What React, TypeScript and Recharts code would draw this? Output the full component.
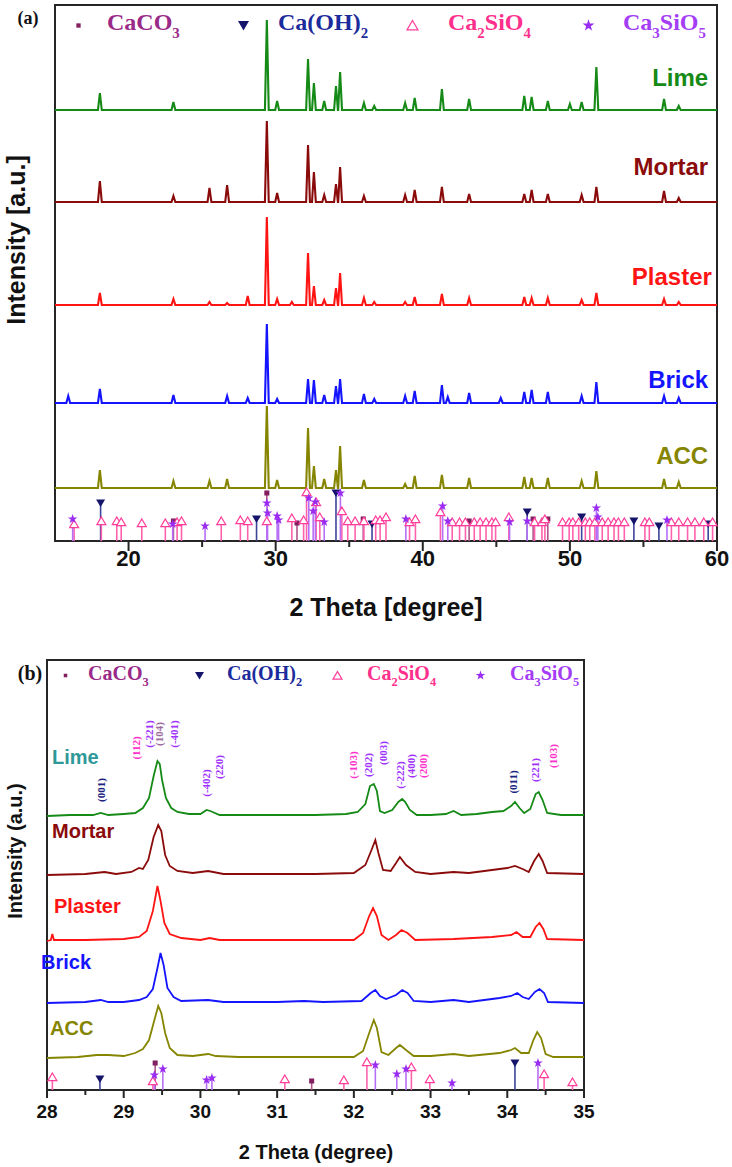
import React from 'react';
import {
  ComposedChart, Line, Scatter, XAxis, YAxis, ReferenceArea, ReferenceLine,
} from 'recharts';

// samples, top trace first
const samples = ['Lime', 'Mortar', 'Plaster', 'Brick', 'ACC'];

// (a) 15-60 deg: stacking offsets (a.u.) and peaks [2theta, height above baseline]
const offsetsA = [431, 339, 236, 138, 53];
const limePeaksA = [[18.05, 17], [23.05, 8], [29.4, 90], [30.1, 9], [32.2, 51], [32.6, 27], [33.3, 9], [34.1, 24], [34.38, 38], [36.0, 7], [36.7, 4], [38.8, 7], [39.45, 12], [41.3, 21], [43.15, 11], [46.9, 14], [47.4, 13], [48.5, 9], [50.0, 6], [50.8, 8], [51.8, 43], [56.4, 11], [57.4, 4]];
const mortarPeaksA = [[18.05, 21], [23.05, 6], [25.5, 14], [26.7, 17], [29.4, 81], [30.1, 9], [32.2, 57], [32.6, 30], [33.3, 7], [34.1, 18], [34.38, 35], [36.0, 6], [38.8, 7], [39.45, 12], [41.3, 15], [43.15, 8], [46.9, 8], [47.4, 12], [48.5, 8], [50.8, 7], [51.8, 15], [56.4, 11], [57.4, 4]];
const plasterPeaksA = [[18.05, 12], [23.05, 6], [25.5, 3], [26.7, 2], [28.1, 9], [29.4, 88], [30.1, 6], [31.1, 3], [32.2, 52], [32.6, 19], [33.3, 5], [34.1, 17], [34.38, 32], [36.0, 7], [36.7, 3], [38.8, 3], [39.45, 8], [41.3, 11], [43.15, 7], [46.9, 8], [47.4, 7], [48.5, 7], [50.8, 5], [51.8, 12], [56.4, 6], [57.4, 3]];
const brickPeaksA = [[15.9, 7], [18.05, 14], [23.05, 8], [26.7, 7], [28.1, 5], [29.4, 79], [30.1, 4], [32.2, 24], [32.6, 23], [33.3, 8], [34.1, 17], [34.38, 24], [36.0, 9], [36.7, 4], [38.8, 7], [39.45, 12], [41.3, 18], [41.7, 6], [43.15, 10], [45.3, 5], [46.9, 11], [47.4, 13], [48.5, 11], [50.8, 7], [51.8, 21], [56.4, 7], [57.4, 5]];
const accPeaksA = [[18.05, 18], [23.05, 7], [25.5, 7], [26.7, 9], [29.4, 82], [30.1, 8], [32.2, 60], [32.6, 22], [33.3, 9], [34.1, 18], [34.38, 42], [36.0, 8], [38.8, 4], [39.45, 12], [41.3, 13], [43.15, 10], [46.9, 11], [47.4, 10], [48.5, 10], [50.8, 7], [51.8, 17], [56.4, 9], [57.4, 6]];

// (a) reference patterns [2theta, stick height]
const caco3A = [[23.05, 20], [29.4, 48], [31.45, 18], [35.95, 22], [43.15, 20], [47.5, 22], [48.5, 22]];
const caoh2A = [[18.1, 38], [28.7, 22], [34.1, 48], [36.55, 17], [47.1, 29], [50.8, 24], [54.35, 20], [56.05, 15], [59.4, 17]];
const c2sA = [[16.3, 17], [18.15, 20], [19.2, 20], [19.5, 19], [20.9, 18], [22.5, 18], [23.3, 19], [23.6, 20], [26.3, 20], [27.6, 21], [28.1, 20], [29.4, 20], [31.1, 23], [31.9, 21], [32.1, 49], [32.75, 39], [33.0, 24], [34.5, 30], [34.9, 20], [35.4, 20], [36.0, 20], [36.8, 21], [37.1, 21], [37.5, 24], [39.1, 19], [39.5, 22], [41.2, 29], [42.0, 19], [42.5, 19], [42.9, 19], [43.5, 19], [43.9, 19], [44.3, 19], [44.7, 19], [44.95, 19], [45.85, 24], [47.6, 19], [48.1, 19], [48.3, 22], [49.5, 19], [49.95, 19], [50.2, 19], [50.6, 19], [51.05, 19], [51.35, 19], [51.7, 19], [52.2, 19], [52.6, 19], [53.0, 19], [53.3, 19], [53.7, 19], [55.1, 19], [55.4, 19], [56.9, 19], [57.4, 19], [58.0, 19], [58.5, 19], [59.1, 19], [59.7, 19]];
const c3sA = [[16.2, 22], [23.0, 17], [25.2, 15], [29.4, 38], [29.45, 28], [30.1, 25], [30.2, 21], [32.25, 43], [32.55, 30], [32.7, 39], [33.3, 19], [34.4, 48], [38.85, 22], [41.35, 35], [41.7, 20], [45.9, 19], [47.1, 20], [51.8, 33], [51.9, 24], [56.6, 21]];

// (b) 28-35 deg: offsets and traces [2theta, intensity above baseline]
const offsetsB = [274, 215, 149, 87, 32];
const limeB = [[28.0, 0], [28.3, 1], [28.6, 1], [28.7, 3], [28.8, 1], [29.0, 2], [29.15, 3], [29.25, 8], [29.33, 18], [29.39, 40], [29.44, 55], [29.47, 52], [29.5, 36], [29.55, 18], [29.62, 8], [29.7, 4], [29.85, 2], [30.0, 2], [30.08, 6], [30.13, 5], [30.25, 1], [30.6, 1], [31.0, 1], [31.5, 1], [31.9, 2], [32.05, 4], [32.15, 12], [32.21, 30], [32.26, 32], [32.3, 25], [32.34, 5], [32.4, 3], [32.5, 6], [32.58, 14], [32.63, 17], [32.67, 14], [32.73, 6], [32.82, 1], [33.0, 1], [33.2, 2], [33.3, 5], [33.4, 1], [33.6, 2], [33.8, 4], [33.95, 5], [34.05, 10], [34.1, 14], [34.16, 8], [34.22, 3], [34.3, 7], [34.37, 22], [34.41, 24], [34.46, 16], [34.52, 3], [34.7, 1], [35.0, 1]];
const mortarB = [[28.0, 0], [28.5, 1], [28.75, 3], [28.9, 1], [29.1, 3], [29.2, 7], [29.25, 6], [29.32, 15], [29.39, 38], [29.45, 50], [29.49, 44], [29.54, 20], [29.6, 9], [29.7, 4], [29.9, 2], [30.1, 4], [30.3, 1], [31.0, 1], [31.5, 1], [32.0, 2], [32.15, 10], [32.23, 25], [32.28, 35], [32.32, 22], [32.38, 5], [32.48, 4], [32.55, 12], [32.6, 18], [32.68, 10], [32.8, 3], [33.0, 1], [33.3, 3], [33.5, 2], [33.8, 5], [34.0, 7], [34.1, 9], [34.2, 6], [34.28, 3], [34.35, 14], [34.41, 21], [34.46, 14], [34.52, 2], [35.0, 1]];
const plasterB = [[28.0, 0], [28.05, 1], [28.07, 7], [28.09, 1], [28.5, 1], [29.0, 2], [29.2, 4], [29.3, 10], [29.38, 30], [29.44, 55], [29.48, 40], [29.53, 18], [29.6, 7], [29.75, 3], [30.0, 1], [30.12, 3], [30.25, 1], [31.0, 1], [31.5, 1], [32.0, 1], [32.12, 8], [32.2, 25], [32.25, 33], [32.3, 25], [32.36, 6], [32.45, 1], [32.55, 6], [32.62, 11], [32.7, 8], [32.8, 1], [33.3, 2], [33.8, 4], [34.05, 6], [34.12, 9], [34.2, 4], [34.3, 4], [34.37, 14], [34.42, 18], [34.47, 12], [34.52, 2], [35.0, 1]];
const brickB = [[28.0, 0], [28.5, 1], [28.7, 3], [28.8, 1], [29.0, 1], [29.2, 3], [29.3, 6], [29.38, 14], [29.44, 35], [29.48, 50], [29.52, 38], [29.57, 15], [29.65, 6], [29.75, 2], [30.1, 3], [30.3, 1], [31.0, 1], [31.35, 2], [31.6, 1], [32.1, 2], [32.22, 10], [32.28, 13], [32.34, 7], [32.42, 4], [32.55, 8], [32.63, 13], [32.7, 10], [32.78, 2], [33.0, 1], [33.3, 3], [33.5, 1], [33.9, 5], [34.05, 7], [34.13, 10], [34.2, 6], [34.28, 4], [34.36, 11], [34.42, 14], [34.48, 10], [34.53, 1], [35.0, 0]];
const accB = [[28.0, 0], [28.4, 1], [28.65, 3], [28.8, 3], [29.0, 2], [29.15, 5], [29.25, 9], [29.33, 18], [29.4, 38], [29.45, 52], [29.49, 45], [29.54, 25], [29.6, 10], [29.7, 3], [29.9, 2], [30.1, 4], [30.2, 2], [30.5, 1], [31.0, 1], [31.5, 1], [32.0, 1], [32.12, 7], [32.2, 25], [32.26, 38], [32.3, 30], [32.36, 6], [32.45, 3], [32.55, 10], [32.6, 13], [32.68, 8], [32.78, 2], [33.0, 2], [33.3, 4], [33.5, 2], [33.9, 5], [34.05, 8], [34.1, 10], [34.18, 5], [34.28, 5], [34.34, 18], [34.39, 26], [34.44, 20], [34.5, 4], [34.6, 1], [35.0, 1]];

// (b) reference patterns
const caco3B = [[29.41, 27], [31.45, 9]];
const caoh2B = [[28.69, 11], [34.1, 27]];
const c2sB = [[28.07, 13], [29.38, 9], [31.1, 11], [31.87, 10], [32.17, 28], [32.75, 23], [32.99, 11], [34.48, 16], [34.85, 8]];
const c3sB = [[29.4, 15], [29.51, 21], [30.08, 10], [30.15, 12], [32.28, 25], [32.56, 16], [32.68, 21], [33.28, 7], [34.4, 27]];

// (b) Miller indices over the Lime trace: [label, 2theta, height, phase]
const hklB = [
  ['(001)', 28.71, 300, 'CH'], ['(112)', 29.16, 342, 'C2S'], ['(-221)', 29.33, 356, 'C3S'],
  ['(104)', 29.46, 356, 'CC'], ['(-401)', 29.66, 356, 'C3S'], ['(-402)', 30.08, 307, 'C3S'],
  ['(220)', 30.24, 323, 'C3S'], ['(-103)', 31.99, 325, 'C2S'], ['(202)', 32.18, 325, 'C3S'],
  ['(003)', 32.38, 337, 'C3S'], ['(-222)', 32.6, 315, 'C3S'], ['(400)', 32.75, 324, 'C3S'],
  ['(200)', 32.9, 324, 'C2S'], ['(011)', 34.08, 308, 'CH'], ['(221)', 34.36, 320, 'C3S'],
  ['(103)', 34.6, 334, 'C2S'],
];

const ticksA = [20, 25, 30, 35, 40, 45, 50, 55, 60];
const ticksB = [28, 28.5, 29, 29.5, 30, 30.5, 31, 31.5, 32, 32.5, 33, 33.5, 34, 34.5, 35];

const SANS = '"Liberation Sans", Arial, Helvetica, sans-serif';
const SERIF = '"Liberation Serif", "Times New Roman", Times, serif';
const AXIS = '#262626';

const traceColors = ['#168a16', '#8b0b0b', '#ff1414', '#1414ff', '#858500'];
const labelColorsB = ['#2f9898', '#8b0b0b', '#ff1414', '#1414ff', '#858500'];

const phaseStyle: Record<string, { marker: string; stick: string; text: string; hkl: string }> = {
  CC: { marker: '#82205f', stick: '#b0568a', text: '#9a2a88', hkl: '#9c6c9c' },
  CH: { marker: '#14146b', stick: '#3d4599', text: '#1c2b9c', hkl: '#1a237e' },
  C2S: { marker: '#ff3d9a', stick: '#ff62ad', text: '#ff2f8c', hkl: '#ff33cc' },
  C3S: { marker: '#9a2cf2', stick: '#b66ef6', text: '#a53cf6', hkl: '#a033ff' },
};

const legendNames: [string, [string, boolean][]][] = [
  ['CC', [['CaCO', false], ['3', true]]],
  ['CH', [['Ca(OH)', false], ['2', true]]],
  ['C2S', [['Ca', false], ['2', true], ['SiO', false], ['4', true]]],
  ['C3S', [['Ca', false], ['3', true], ['SiO', false], ['5', true]]],
];

const PEAK_HALF = 0.13;
const peaksToTrace = (peaks: number[][], offset: number, from: number, to: number) => {
  const pts = [{ x: from, y: offset }];
  peaks.forEach(([p, h]) => {
    pts.push({ x: p - PEAK_HALF, y: offset }, { x: p, y: offset + h }, { x: p + PEAK_HALF, y: offset });
  });
  pts.push({ x: to, y: offset });
  return pts;
};

const tracesA = [limePeaksA, mortarPeaksA, plasterPeaksA, brickPeaksA, accPeaksA]
  .map((pk, i) => peaksToTrace(pk, offsetsA[i], 15, 60));
const tracesB = [limeB, mortarB, plasterB, brickB, accB]
  .map((pts, i) => pts.map(([x, y]) => ({ x, y: y + offsetsB[i] })));

const sticksA = [['CC', caco3A], ['CH', caoh2A], ['C2S', c2sA], ['C3S', c3sA]] as [string, number[][]][];
const sticksB = [['CC', caco3B], ['CH', caoh2B], ['C2S', c2sB], ['C3S', c3sB]] as [string, number[][]][];

// sample label anchors
const labelsA = samples.map((s, i) => ({
  x: [59.4, 59.4, 59.65, 59.4, 59.4][i], y: offsetsA[i] + [32, 35, 28, 23, 32][i], name: s, c: traceColors[i],
}));
const labelsB = samples.map((s, i) => ({
  x: 28, y: offsetsB[i] + [59, 44, 35, 41, 30][i], name: s, c: labelColorsB[i], dx: [5, 5, 7, -6, 3][i],
}));
const hklData = hklB.map(([t, x, y, ph]) => ({ x, y, t, ph }));

function PhaseMarker({ cx, cy, phase, s }: { cx: number; cy: number; phase: string; s: number }) {
  const c = phaseStyle[phase].marker;
  if (phase === 'CC') {
    return <rect x={cx - s * 0.28} y={cy - s * 0.28} width={s * 0.56} height={s * 0.56} fill={c} />;
  }
  if (phase === 'CH') {
    return <polygon points={`${cx - s / 2},${cy - s * 0.4} ${cx + s / 2},${cy - s * 0.4} ${cx},${cy + s * 0.45}`} fill={c} />;
  }
  if (phase === 'C2S') {
    return <polygon points={`${cx},${cy - s * 0.45} ${cx + s / 2},${cy + s * 0.4} ${cx - s / 2},${cy + s * 0.4}`} fill="#fff" stroke={c} strokeWidth={1.2} />;
  }
  const pts: string[] = [];
  for (let i = 0; i < 10; i++) {
    const r = i % 2 ? s * 0.22 : s * 0.56;
    const a = -Math.PI / 2 + (i * Math.PI) / 5;
    pts.push(`${cx + r * Math.cos(a)},${cy + r * Math.sin(a)}`);
  }
  return <polygon points={pts.join(' ')} fill={c} />;
}

const makeTick = (majorLen: number, minorLen: number, fontSize: number, gap: number) => (props: any) => {
  const { x, y, payload } = props;
  const v = payload.value;
  const major = Number.isInteger(v) && (fontSize > 20 ? v % 10 === 0 : true);
  return (
    <g>
      <line x1={x} x2={x} y1={y} y2={y + (major ? majorLen : minorLen)} stroke={AXIS} strokeWidth={2} />
      {major && (
        <text x={x} y={y + gap} textAnchor="middle" fontFamily={SANS} fontWeight="bold" fontSize={fontSize} fill="#111">{v}</text>
      )}
    </g>
  );
};

// phase key drawn in the top strip of each frame (page coordinates)
function PhaseLegend({ marks, texts, y, fontSize, s }: { marks: number[]; texts: number[]; y: number; fontSize: number; s: number }) {
  return (
    <>
      {legendNames.map(([ph, parts], i) => (
        <React.Fragment key={ph}>
          <svg width={s + 4} height={s + 4} style={{ position: 'absolute', left: marks[i] - s / 2 - 2, top: y - s / 2 - 2 }}>
            <PhaseMarker cx={s / 2 + 2} cy={s / 2 + 2} phase={ph} s={ph === 'CC' ? s * 0.7 : s} />
          </svg>
          <div style={{
            position: 'absolute', left: texts[i], top: y - fontSize * 0.62, whiteSpace: 'nowrap', lineHeight: 1,
            fontFamily: SERIF, fontWeight: 'bold', fontSize, color: phaseStyle[ph].text,
          }}>
            {parts.map(([t, sub], j) => sub
              ? <span key={j} style={{ fontSize: '0.62em', position: 'relative', top: '0.5em' }}>{t}</span>
              : <span key={j}>{t}</span>)}
          </div>
        </React.Fragment>
      ))}
    </>
  );
}

const Txt = ({ x, y, size, children, rotate, serif }: any) => (
  <div style={{
    position: 'absolute', left: x, top: y, transform: `translate(-50%, -50%)${rotate ? ' rotate(-90deg)' : ''}`,
    whiteSpace: 'nowrap', fontFamily: serif ? SERIF : SANS, fontWeight: 'bold', fontSize: size, color: '#111', lineHeight: 1,
  }}>{children}</div>
);

export default function App() {
  return (
    <div style={{ position: 'absolute', left: 0, top: 0, width: 732, height: 1167, background: '#fff' }}>
      {/* panel (a) */}
      <div style={{ position: 'absolute', left: 0, top: 0 }}>
        <ComposedChart width={732} height={630} margin={{ top: 5, right: 15, bottom: 59, left: 55 }}>
          <XAxis dataKey="x" type="number" domain={[15, 60]} ticks={ticksA} interval={0} axisLine={false}
            tickLine={false} tickSize={0} tickMargin={0} height={30} tick={makeTick(10, 6, 22, 25)} />
          <YAxis dataKey="y" type="number" domain={[0, 536]} hide />
          <ReferenceArea x1={15} x2={60} y1={0} y2={536} fill="none" stroke={AXIS} strokeWidth={2} />
          {sticksA.flatMap(([ph, list]) => list.map(([p, h], j) => (
            <ReferenceLine key={`a-${ph}-${j}`} segment={[{ x: p, y: 0 }, { x: p, y: h }]}
              stroke={phaseStyle[ph].stick} strokeWidth={1.6} />
          )))}
          {tracesA.map((d, i) => (
            <Line key={samples[i]} data={d} dataKey="y" type="linear" dot={false} stroke={traceColors[i]}
              strokeWidth={2.1} isAnimationActive={false} />
          ))}
          {sticksA.map(([ph, list]) => (
            <Scatter key={`am-${ph}`} data={list.map(([x, y]) => ({ x, y }))} dataKey="y" isAnimationActive={false}
              shape={(p: any) => <PhaseMarker cx={p.cx} cy={p.cy} phase={ph} s={9} />} />
          ))}
          <Scatter data={labelsA} dataKey="y" isAnimationActive={false}
            shape={(p: any) => (
              <text x={p.cx} y={p.cy + 8} textAnchor="end" fontFamily={SANS} fontWeight="bold" fontSize={24}
                fill={p.payload.c}>{p.payload.name}</text>
            )} />
        </ComposedChart>
      </div>

      {/* panel (b) */}
      <div style={{ position: 'absolute', left: 0, top: 640 }}>
        <ComposedChart width={732} height={527} margin={{ top: 20, right: 148, bottom: 47, left: 47 }}>
          <XAxis dataKey="x" type="number" domain={[28, 35]} ticks={ticksB} interval={0} axisLine={false}
            tickLine={false} tickSize={0} tickMargin={0} height={30} tick={makeTick(8, 5, 19, 28)} />
          <YAxis dataKey="y" type="number" domain={[0, 430]} hide />
          <ReferenceArea x1={28} x2={35} y1={0} y2={430} fill="none" stroke={AXIS} strokeWidth={2} />
          {sticksB.flatMap(([ph, list]) => list.map(([p, h], j) => (
            <ReferenceLine key={`b-${ph}-${j}`} segment={[{ x: p, y: 0 }, { x: p, y: h }]}
              stroke={phaseStyle[ph].stick} strokeWidth={1.6} />
          )))}
          {tracesB.map((d, i) => (
            <Line key={samples[i]} data={d} dataKey="y" type="linear" dot={false} stroke={traceColors[i]}
              strokeWidth={1.8} isAnimationActive={false} />
          ))}
          {sticksB.map(([ph, list]) => (
            <Scatter key={`bm-${ph}`} data={list.map(([x, y]) => ({ x, y }))} dataKey="y" isAnimationActive={false}
              shape={(p: any) => <PhaseMarker cx={p.cx} cy={p.cy} phase={ph} s={9} />} />
          ))}
          <Scatter data={labelsB} dataKey="y" isAnimationActive={false}
            shape={(p: any) => (
              <text x={p.cx + p.payload.dx} y={p.cy + 7} textAnchor="start" fontFamily={SANS} fontWeight="bold"
                fontSize={20} fill={p.payload.c}>{p.payload.name}</text>
            )} />
          <Scatter data={hklData} dataKey="y" isAnimationActive={false}
            shape={(p: any) => (
              <text transform={`translate(${p.cx},${p.cy}) rotate(-90)`} textAnchor="middle" dy="0.35em"
                fontFamily={SERIF} fontWeight="bold" fontSize={11} fill={phaseStyle[p.payload.ph].hkl}>{p.payload.t}</text>
            )} />
        </ComposedChart>
      </div>

      <PhaseLegend marks={[78, 243, 412, 588]} texts={[107, 278, 448, 623]} y={25} fontSize={24} s={11} />
      <PhaseLegend marks={[65, 199, 337, 480]} texts={[88, 227, 367, 510]} y={675} fontSize={20} s={9} />

      <Txt x={28} y={18} size={18} serif>(a)</Txt>
      <Txt x={30} y={673} size={20} serif>(b)</Txt>
      <Txt x={16} y={240} size={25} rotate>Intensity [a.u.]</Txt>
      <Txt x={15} y={851} size={20} rotate>Intensity (a.u.)</Txt>
      <Txt x={386} y={607} size={25}>2 Theta [degree]</Txt>
      <Txt x={316} y={1152} size={20}>2 Theta (degree)</Txt>
    </div>
  );
}
